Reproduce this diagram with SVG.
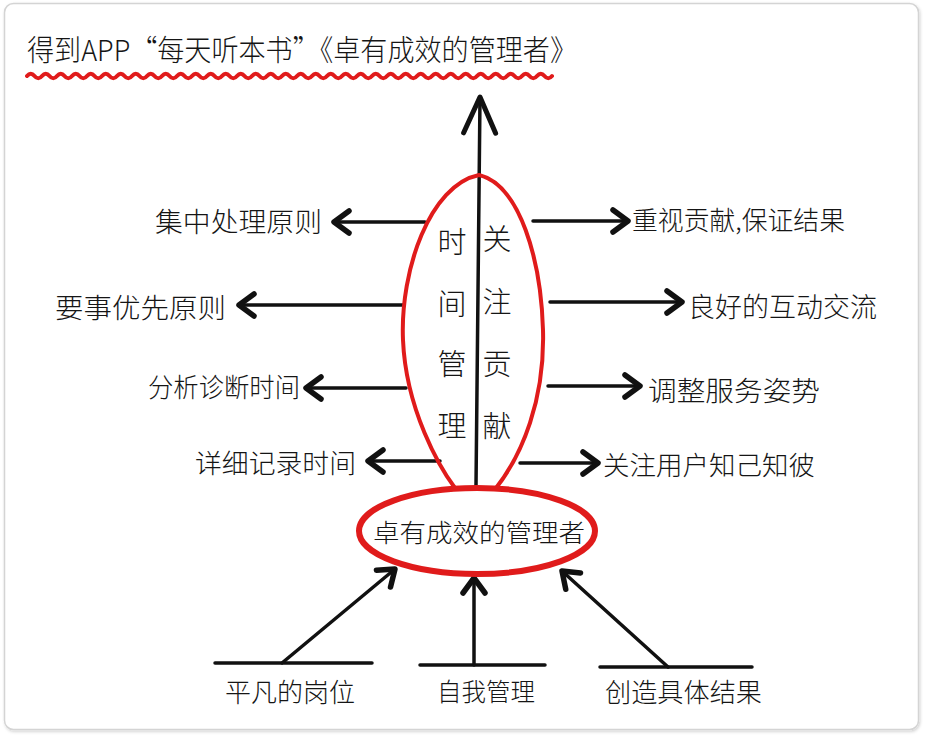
<svg xmlns="http://www.w3.org/2000/svg" width="925" height="737" viewBox="0 0 925 737">
  <style>
    .t { font-family: "Noto Sans CJK SC", "Noto Sans", sans-serif; font-weight: 300; fill: #151515; dominant-baseline: central; }
    .line { stroke: #111; stroke-width: 3.5; fill: none; stroke-linecap: round; }
    .red { stroke: #e01b1b; fill: none; stroke-linecap: round; stroke-linejoin: round; }
  </style>
  <defs>
    <marker id="head" markerUnits="userSpaceOnUse" markerWidth="40" markerHeight="40" viewBox="-20 -20 40 40" refX="0" refY="0" orient="auto" overflow="visible">
      <path d="M -15,-11 L 0,0 L -15,11" fill="none" stroke="#111" stroke-width="5.5" stroke-linecap="round" stroke-linejoin="round"/>
    </marker>
    <marker id="headBig" markerUnits="userSpaceOnUse" markerWidth="60" markerHeight="60" viewBox="-30 -30 60 60" refX="0" refY="0" orient="auto" overflow="visible">
      <path d="M -36,-16 L 0,0 L -36,16" fill="none" stroke="#111" stroke-width="5" stroke-linecap="round" stroke-linejoin="round"/>
    </marker>
    <filter id="shadow" x="-2%" y="-2%" width="104%" height="104%">
      <feDropShadow dx="1" dy="1.5" stdDeviation="1.5" flood-color="#000" flood-opacity="0.18"/>
    </filter>
  </defs>

  <!-- card frame -->
  <rect x="0" y="0" width="925" height="737" fill="#fff"/>
  <rect x="4.5" y="3.5" width="914" height="726" rx="9" fill="#fff" stroke="#d4d4d4" stroke-width="1.5" filter="url(#shadow)"/>

  <!-- title with wavy underline -->
  <g id="title">
    <text class="t" x="27" y="48" font-size="29" textLength="550" lengthAdjust="spacingAndGlyphs">得到APP“每天听本书”《卓有成效的管理者》</text>
    <path class="red" stroke-width="4" d="M27,76 q3.75,-4.5 7.5,0 t7.5,0 t7.5,0 t7.5,0 t7.5,0 t7.5,0 t7.5,0 t7.5,0 t7.5,0 t7.5,0 t7.5,0 t7.5,0 t7.5,0 t7.5,0 t7.5,0 t7.5,0 t7.5,0 t7.5,0 t7.5,0 t7.5,0 t7.5,0 t7.5,0 t7.5,0 t7.5,0 t7.5,0 t7.5,0 t7.5,0 t7.5,0 t7.5,0 t7.5,0 t7.5,0 t7.5,0 t7.5,0 t7.5,0 t7.5,0 t7.5,0 t7.5,0 t7.5,0 t7.5,0 t7.5,0 t7.5,0 t7.5,0 t7.5,0 t7.5,0 t7.5,0 t7.5,0 t7.5,0 t7.5,0 t7.5,0 t7.5,0 t7.5,0 t7.5,0 t7.5,0 t7.5,0 t7.5,0 t7.5,0 t7.5,0 t7.5,0 t7.5,0 t7.5,0 t7.5,0 t7.5,0 t7.5,0 t7.5,0 t7.5,0 t7.5,0 t7.5,0 t7.5,0 t7.5,0 t7.5,0"/>
  </g>

  <!-- connectors -->
  <g id="connectors" class="line">
    <line x1="476" y1="486" x2="480" y2="97" marker-end="url(#headBig)"/>
    <!-- left branches -->
    <line x1="425" y1="222" x2="334" y2="222" marker-end="url(#head)"/>
    <line x1="404" y1="305" x2="239" y2="305" marker-end="url(#head)"/>
    <line x1="406" y1="388" x2="306" y2="388" marker-end="url(#head)"/>
    <line x1="440" y1="461" x2="368" y2="461" marker-end="url(#head)"/>
    <!-- right branches -->
    <line x1="533" y1="221" x2="628" y2="221" marker-end="url(#head)"/>
    <line x1="550" y1="302" x2="682" y2="302" marker-end="url(#head)"/>
    <line x1="548" y1="386" x2="640" y2="386" marker-end="url(#head)"/>
    <line x1="520" y1="463" x2="598" y2="463" marker-end="url(#head)"/>
    <!-- bottom inputs -->
    <line x1="215" y1="663" x2="372" y2="663"/>
    <line x1="282" y1="663" x2="395" y2="569" marker-end="url(#head)"/>
    <line x1="420" y1="665" x2="545" y2="665"/>
    <line x1="474" y1="665" x2="474" y2="578" marker-end="url(#head)"/>
    <line x1="600" y1="667" x2="752" y2="667"/>
    <line x1="668" y1="667" x2="562" y2="571" marker-end="url(#head)"/>
  </g>

  <!-- central leaf: time management / focus on contribution -->
  <g id="leaf">
    <path class="red" stroke-width="4" d="M455,488 C440,468 406,410 403,340 C400,270 430,185 479,175 C520,185 541,260 543,330 C545,400 522,455 496,488"/>
    <text class="t" x="452" y="240" font-size="29" text-anchor="middle">时</text>
    <text class="t" x="452" y="302" font-size="29" text-anchor="middle">间</text>
    <text class="t" x="452" y="362" font-size="29" text-anchor="middle">管</text>
    <text class="t" x="452" y="424" font-size="29" text-anchor="middle">理</text>
    <text class="t" x="497" y="237" font-size="29" text-anchor="middle">关</text>
    <text class="t" x="497" y="300" font-size="29" text-anchor="middle">注</text>
    <text class="t" x="497" y="362" font-size="29" text-anchor="middle">贡</text>
    <text class="t" x="497" y="424" font-size="29" text-anchor="middle">献</text>
  </g>

  <!-- core node -->
  <g id="core">
    <ellipse class="red" stroke-width="6" cx="477" cy="531" rx="118" ry="43"/>
    <text class="t" x="373" y="531" font-size="25" textLength="212" lengthAdjust="spacingAndGlyphs">卓有成效的管理者</text>
  </g>

  <!-- left topics -->
  <g id="left-1"><text class="t" x="155" y="220" font-size="27" textLength="167" lengthAdjust="spacingAndGlyphs">集中处理原则</text></g>
  <g id="left-2"><text class="t" x="55" y="306" font-size="27" textLength="171" lengthAdjust="spacingAndGlyphs">要事优先原则</text></g>
  <g id="left-3"><text class="t" x="148" y="385" font-size="26" textLength="152" lengthAdjust="spacingAndGlyphs">分析诊断时间</text></g>
  <g id="left-4"><text class="t" x="195" y="461" font-size="26" textLength="161" lengthAdjust="spacingAndGlyphs">详细记录时间</text></g>

  <!-- right topics -->
  <g id="right-1"><text class="t" x="632" y="218" font-size="26" textLength="213" lengthAdjust="spacingAndGlyphs">重视贡献,保证结果</text></g>
  <g id="right-2"><text class="t" x="688" y="305" font-size="27" textLength="189" lengthAdjust="spacingAndGlyphs">良好的互动交流</text></g>
  <g id="right-3"><text class="t" x="648" y="389" font-size="27" textLength="172" lengthAdjust="spacingAndGlyphs">调整服务姿势</text></g>
  <g id="right-4"><text class="t" x="603" y="463" font-size="26" textLength="212" lengthAdjust="spacingAndGlyphs">关注用户知己知彼</text></g>

  <!-- bottom inputs -->
  <g id="bottom-1"><text class="t" x="225" y="690" font-size="26" textLength="130" lengthAdjust="spacingAndGlyphs">平凡的岗位</text></g>
  <g id="bottom-2"><text class="t" x="437" y="690" font-size="25" textLength="98" lengthAdjust="spacingAndGlyphs">自我管理</text></g>
  <g id="bottom-3"><text class="t" x="605" y="690" font-size="26" textLength="157" lengthAdjust="spacingAndGlyphs">创造具体结果</text></g>
</svg>
